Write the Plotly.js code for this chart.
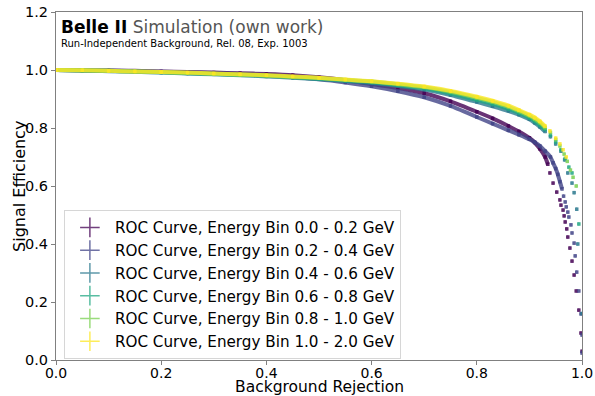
<!DOCTYPE html>
<html>
<head>
<meta charset="utf-8">
<script src="https://cdn.plot.ly/plotly-3.0.1.min.js"></script>
<style>html,body{margin:0;padding:0;background:#fff;}#chart{width:595px;height:396px;}</style>
</head>
<body>
<div id="chart"></div>
<script>
// Legend labels
const binLabels = [
  "ROC Curve, Energy Bin 0.0 - 0.2 GeV",
  "ROC Curve, Energy Bin 0.2 - 0.4 GeV",
  "ROC Curve, Energy Bin 0.4 - 0.6 GeV",
  "ROC Curve, Energy Bin 0.6 - 0.8 GeV",
  "ROC Curve, Energy Bin 0.8 - 1.0 GeV",
  "ROC Curve, Energy Bin 1.0 - 2.0 GeV"
];

// Background rejection (x) and signal efficiency (y)
const rej0 = [0.0,0.05,0.1,0.15,0.2,0.25,0.3,0.35,0.4,0.45,0.5,0.55,0.6,0.65,0.7,0.75,0.8,0.83,0.86,0.88,0.9,0.91,0.92,0.93,0.935,
  0.939,0.945,0.952,0.958,0.960,0.964,0.966,0.968,0.971,0.973,0.977,0.981,0.985,0.989,0.994,0.998,1.0];
const eff0 = [1.0,0.999,0.998,0.997,0.995,0.993,0.991,0.989,0.986,0.982,0.975,0.965,0.952,0.938,0.920,0.892,0.856,0.833,0.807,0.788,0.766,0.750,0.728,0.700,0.675,
  0.645,0.61,0.579,0.552,0.534,0.517,0.497,0.476,0.452,0.424,0.386,0.341,0.293,0.238,0.172,0.093,0.03];

const rej1 = [0.0,0.05,0.1,0.15,0.2,0.25,0.3,0.35,0.4,0.45,0.5,0.55,0.6,0.65,0.7,0.75,0.8,0.83,0.86,0.88,0.9,0.91,0.92,0.93,0.94,0.945,0.95,0.954,0.958,0.962,
  0.965,0.968,0.970,0.973,0.975,0.979,0.981,0.985,0.987,0.990,0.994,0.998,1.0,1.0];
const eff1 = [1.0,0.999,0.998,0.996,0.994,0.992,0.989,0.986,0.982,0.976,0.968,0.957,0.944,0.927,0.906,0.876,0.838,0.815,0.792,0.777,0.761,0.751,0.738,0.720,0.70,0.68,0.66,0.64,0.615,0.59,
  0.565,0.545,0.528,0.51,0.493,0.466,0.438,0.403,0.359,0.303,0.238,0.159,0.086,0.024];

const rej2 = [0.0,0.05,0.1,0.15,0.2,0.25,0.3,0.35,0.4,0.45,0.5,0.55,0.6,0.65,0.7,0.75,0.8,0.83,0.86,0.88,0.9,0.91,0.92,0.93,
  0.94,0.95,0.96,0.967,0.973,0.981,0.985,0.99,0.992,1.0];
const eff2 = [1.0,0.998,0.996,0.994,0.991,0.988,0.985,0.982,0.978,0.973,0.968,0.962,0.955,0.945,0.933,0.914,0.890,0.875,0.859,0.846,0.830,0.818,0.804,0.788,
  0.77,0.745,0.72,0.69,0.645,0.61,0.577,0.52,0.40,0.16];

const rej3 = [0.0,0.05,0.1,0.15,0.2,0.25,0.3,0.35,0.4,0.45,0.5,0.55,0.6,0.65,0.7,0.75,0.8,0.83,0.86,0.88,0.9,0.91,0.92,0.93,
  0.94,0.95,0.96,0.968,0.975,0.981,0.994];
const eff3 = [1.0,0.998,0.997,0.995,0.992,0.989,0.986,0.983,0.980,0.975,0.970,0.964,0.958,0.948,0.937,0.919,0.897,0.883,0.866,0.852,0.835,0.824,0.810,0.795,
  0.775,0.752,0.725,0.695,0.665,0.645,0.469];

const rej4 = [0.0,0.05,0.1,0.15,0.2,0.25,0.3,0.35,0.4,0.45,0.5,0.55,0.6,0.65,0.7,0.75,0.8,0.83,0.86,0.88,0.9,0.91,0.92,0.93,
  0.94,0.95,0.958,0.966,0.972,0.978,0.983,0.989];
const eff4 = [1.0,0.999,0.997,0.995,0.993,0.990,0.987,0.984,0.981,0.976,0.972,0.966,0.960,0.951,0.941,0.925,0.904,0.890,0.873,0.858,0.842,0.831,0.818,0.801,
  0.785,0.76,0.738,0.71,0.685,0.655,0.63,0.60];

const rej5 = [0.0,0.05,0.1,0.15,0.2,0.25,0.3,0.35,0.4,0.45,0.5,0.55,0.6,0.65,0.7,0.75,0.8,0.83,0.86,0.88,0.9,0.91,0.92,0.93,
  0.939,0.95,0.958,0.964,0.97];
const eff5 = [1.0,0.999,0.997,0.995,0.993,0.991,0.988,0.985,0.982,0.978,0.973,0.967,0.961,0.953,0.943,0.928,0.908,0.894,0.877,0.862,0.846,0.836,0.823,0.806,
  0.79,0.765,0.745,0.725,0.70];

const allRej = [rej0, rej1, rej2, rej3, rej4, rej5];
const allEff = [eff0, eff1, eff2, eff3, eff4, eff5];
const colors = ["#440154", "#414487", "#2a788e", "#22a884", "#7ad151", "#fde725"];
const denseUntil = [0.935, 0.962, 0.93, 0.93, 0.93, 0.93];

const traces = [];
for (let i = 0; i < 6; i++) {
  const dx = [], dy = [];
  allRej[i].forEach((v, k) => { if (v <= denseUntil[i]) { dx.push(v); dy.push(allEff[i][k]); } });
  traces.push({
    x: dx, y: dy, type: "scatter", mode: "lines", showlegend: false, hoverinfo: "skip",
    line: {color: colors[i], width: 4, shape: "spline", smoothing: 0.6}, opacity: 0.8
  });
  traces.push({
    x: allRej[i], y: allEff[i], type: "scatter", mode: "markers", showlegend: false,
    marker: {symbol: "square", size: 3.5, color: colors[i]}, opacity: 0.85,
    error_y: {type: "constant", value: 0.006, thickness: 1, width: 0, color: colors[i]},
    error_x: {type: "constant", value: 0.002, thickness: 1, width: 0, color: colors[i]}
  });
}
// legend entries (errorbar style crosses); attached to the tick-mark overlay axis
for (let i = 0; i < 6; i++) {
  traces.push({
    x: [null], y: [null], type: "scatter", mode: "markers", name: binLabels[i], xaxis: "x2",
    marker: {symbol: "cross-thin", size: 14, color: colors[i], line: {color: colors[i], width: 1.5}},
    opacity: 0.75
  });
}

const layout = {
  width: 595, height: 396,
  margin: {l: 56, r: 13, t: 12, b: 36},
  paper_bgcolor: "#fff", plot_bgcolor: "#fff",
  font: {family: "DejaVu Sans", color: "#000", size: 14},
  xaxis: {
    range: [0, 1], dtick: 0.2, tick0: 0, tickformat: ".1f",
    showline: true, mirror: true, linecolor: "#808080", linewidth: 1,
    ticks: "", showgrid: false, zeroline: false,
    tickfont: {size: 14}
  },
  xaxis2: {
    overlaying: "x", matches: "x", range: [0, 1], dtick: 0.2, tick0: 0, side: "bottom",
    showline: false, ticks: "outside", ticklen: 4, tickcolor: "#808080",
    showticklabels: false, showgrid: false, zeroline: false
  },
  yaxis: {
    range: [0, 1.2], dtick: 0.2, tick0: 0, tickformat: ".1f",
    showline: true, mirror: true, linecolor: "#808080", linewidth: 1,
    ticks: "outside", ticklen: 4, tickcolor: "#808080",
    showgrid: false, zeroline: false,
    tickfont: {size: 14.5}
  },
  legend: {
    x: 0.015, y: 0.431, xanchor: "left", yanchor: "top",
    bgcolor: "rgba(255,255,255,0.85)", bordercolor: "#d6d6d6", borderwidth: 1,
    font: {size: 15.2, color: "#000"}, tracegroupgap: 0, itemwidth: 40
  },
  annotations: [
    {xref: "paper", yref: "paper", x: 0.006, y: 0.99, xanchor: "left", yanchor: "top", showarrow: false,
     text: "<b>Belle II</b> <span style='color:#555555'>Simulation (own work)</span>", font: {size: 17, color: "#000"}},
    {xref: "paper", yref: "paper", x: 0.006, y: 0.93, xanchor: "left", yanchor: "top", showarrow: false,
     text: "Run-Independent Background, Rel. 08, Exp. 1003", font: {size: 10, color: "#000"}},
    {xref: "paper", yref: "paper", x: 0.5, y: -0.079, xanchor: "center", yanchor: "middle", showarrow: false,
     text: "Background Rejection", font: {size: 15.5, color: "#000"}},
    {xref: "paper", yref: "paper", x: -0.0705, y: 0.5, xanchor: "center", yanchor: "middle", showarrow: false,
     textangle: -90, text: "Signal Efficiency", font: {size: 16, color: "#000"}}
  ]
};

Plotly.newPlot("chart", traces, layout, {staticPlot: true, displayModeBar: false});
</script>
</body>
</html>
